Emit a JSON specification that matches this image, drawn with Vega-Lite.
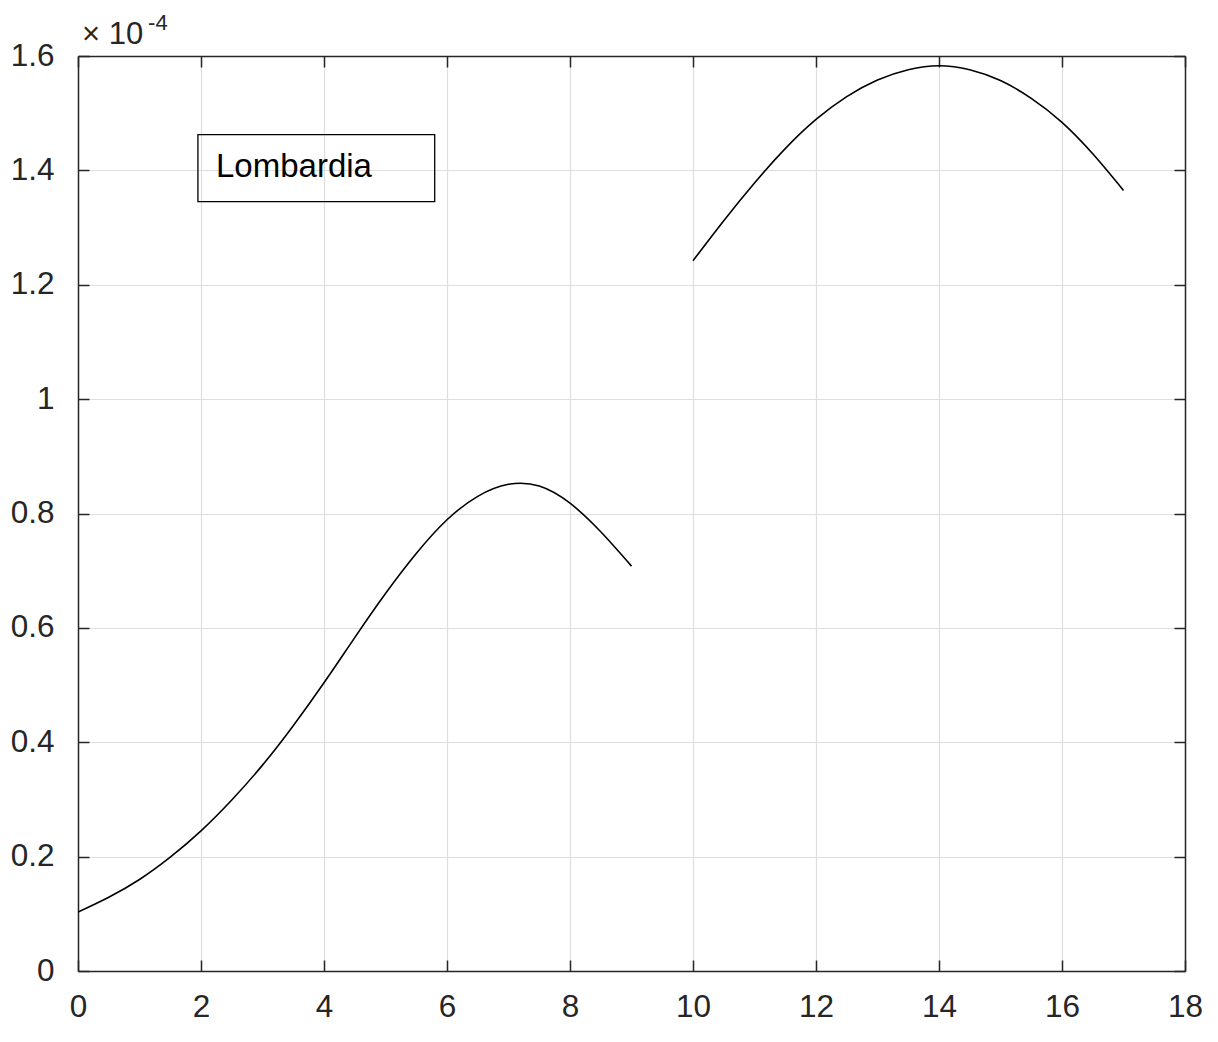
{
  "$schema": "https://vega.github.io/schema/vega-lite/v6.json",
  "width": 1107,
  "height": 915,
  "autosize": {"type": "none"},
  "padding": {"left": 78, "top": 56, "right": 33, "bottom": 71},
  "background": "white",
  "config": {
    "view": {"stroke": null},
    "font": "Liberation Sans",
    "axis": {"labelFont": "Liberation Sans", "labelColor": "#262626", "labelFontSize": 31.5}
  },
  "datasets": {
    "curve": [
      {"x": 0, "y": 1.03e-5, "segment": "a"},
      {"x": 0.5, "y": 1.29e-5, "segment": "a"},
      {"x": 1, "y": 1.60e-5, "segment": "a"},
      {"x": 1.5, "y": 1.99e-5, "segment": "a"},
      {"x": 2, "y": 2.45e-5, "segment": "a"},
      {"x": 2.5, "y": 2.99e-5, "segment": "a"},
      {"x": 3, "y": 3.60e-5, "segment": "a"},
      {"x": 3.5, "y": 4.29e-5, "segment": "a"},
      {"x": 4, "y": 5.04e-5, "segment": "a"},
      {"x": 4.5, "y": 5.83e-5, "segment": "a"},
      {"x": 5, "y": 6.60e-5, "segment": "a"},
      {"x": 5.5, "y": 7.30e-5, "segment": "a"},
      {"x": 6, "y": 7.89e-5, "segment": "a"},
      {"x": 6.5, "y": 8.30e-5, "segment": "a"},
      {"x": 7, "y": 8.51e-5, "segment": "a"},
      {"x": 7.5, "y": 8.48e-5, "segment": "a"},
      {"x": 8, "y": 8.18e-5, "segment": "a"},
      {"x": 8.5, "y": 7.68e-5, "segment": "a"},
      {"x": 9, "y": 7.08e-5, "segment": "a"},
      {"x": 10, "y": 1.242e-4, "segment": "b"},
      {"x": 10.5, "y": 1.312e-4, "segment": "b"},
      {"x": 11, "y": 1.378e-4, "segment": "b"},
      {"x": 11.5, "y": 1.438e-4, "segment": "b"},
      {"x": 12, "y": 1.489e-4, "segment": "b"},
      {"x": 12.5, "y": 1.529e-4, "segment": "b"},
      {"x": 13, "y": 1.558e-4, "segment": "b"},
      {"x": 13.5, "y": 1.576e-4, "segment": "b"},
      {"x": 14, "y": 1.583e-4, "segment": "b"},
      {"x": 14.5, "y": 1.576e-4, "segment": "b"},
      {"x": 15, "y": 1.557e-4, "segment": "b"},
      {"x": 15.5, "y": 1.526e-4, "segment": "b"},
      {"x": 16, "y": 1.484e-4, "segment": "b"},
      {"x": 16.5, "y": 1.429e-4, "segment": "b"},
      {"x": 17, "y": 1.365e-4, "segment": "b"}
    ],
    "box": [{"x": 1.95, "x2": 5.80, "y": 1.4626e-4, "y2": 1.3453e-4, "label": "Lombardia", "tx": 2.244, "ty": 1.4066e-4}],
    "exponent": [
      {"x": 0.065, "y": 1.636e-4, "text": "× 10", "part": "base"},
      {"x": 1.14, "y": 1.658e-4, "text": "-4", "part": "exp"}
    ]
  },
  "resolve": {"axis": {"x": "independent", "y": "independent"}},
  "layer": [
    {
      "data": {"name": "curve"},
      "mark": {"type": "line", "color": "black", "strokeWidth": 1.6, "interpolate": "natural", "clip": true},
      "encoding": {
        "x": {
          "field": "x", "type": "quantitative",
          "scale": {"domain": [0, 18], "nice": false, "zero": false},
          "axis": {
            "orient": "bottom", "title": null, "values": [0, 2, 4, 6, 8, 10, 12, 14, 16, 18],
            "grid": true, "gridColor": "#dedede", "gridWidth": 1.2,
            "domainColor": "#262626", "domainWidth": 1.5,
            "tickColor": "#262626", "tickWidth": 1.5, "tickSize": -11,
            "labelPadding": 31, "labelFlush": false, "labelOverlap": false
          }
        },
        "y": {
          "field": "y", "type": "quantitative",
          "scale": {"domain": [0, 0.00016], "nice": false, "zero": false},
          "axis": {
            "orient": "left", "title": null,
            "values": [0, 0.00002, 0.00004, 0.00006, 0.00008, 0.0001, 0.00012, 0.00014, 0.00016],
            "labelExpr": "format(datum.value * 10000, '.1~f')",
            "grid": true, "gridColor": "#dedede", "gridWidth": 1.2,
            "domainColor": "#262626", "domainWidth": 1.5,
            "tickColor": "#262626", "tickWidth": 1.5, "tickSize": -11,
            "labelPadding": 35, "labelFlush": false, "labelOverlap": false
          }
        },
        "detail": {"field": "segment"}
      }
    },
    {
      "data": {"name": "box"},
      "mark": {"type": "rect", "fill": null, "fillOpacity": 0, "stroke": "black", "strokeWidth": 1.3},
      "encoding": {
        "x": {
          "field": "x", "type": "quantitative",
          "axis": {
            "orient": "top", "title": null, "values": [0, 2, 4, 6, 8, 10, 12, 14, 16, 18],
            "labels": false, "grid": false,
            "domainColor": "#262626", "domainWidth": 1.5,
            "tickColor": "#262626", "tickWidth": 1.5, "tickSize": -11
          }
        },
        "x2": {"field": "x2"},
        "y": {
          "field": "y", "type": "quantitative",
          "axis": {
            "orient": "right", "title": null,
            "values": [0, 0.00002, 0.00004, 0.00006, 0.00008, 0.0001, 0.00012, 0.00014, 0.00016],
            "labels": false, "grid": false,
            "domainColor": "#262626", "domainWidth": 1.5,
            "tickColor": "#262626", "tickWidth": 1.5, "tickSize": -11
          }
        },
        "y2": {"field": "y2"}
      }
    },
    {
      "data": {"name": "box"},
      "mark": {"type": "text", "align": "left", "baseline": "middle", "fontSize": 33, "font": "Liberation Sans", "color": "black"},
      "encoding": {
        "x": {"field": "tx", "type": "quantitative", "axis": null},
        "y": {"field": "ty", "type": "quantitative", "axis": null},
        "text": {"field": "label"}
      }
    },
    {
      "data": {"name": "exponent"},
      "mark": {"type": "text", "align": "left", "baseline": "middle", "font": "Liberation Sans", "color": "#262626"},
      "encoding": {
        "x": {"field": "x", "type": "quantitative", "axis": null},
        "y": {"field": "y", "type": "quantitative", "axis": null},
        "text": {"field": "text"},
        "size": {"field": "part", "type": "nominal", "scale": {"domain": ["base", "exp"], "range": [31, 22]}, "legend": null}
      }
    }
  ]
}
